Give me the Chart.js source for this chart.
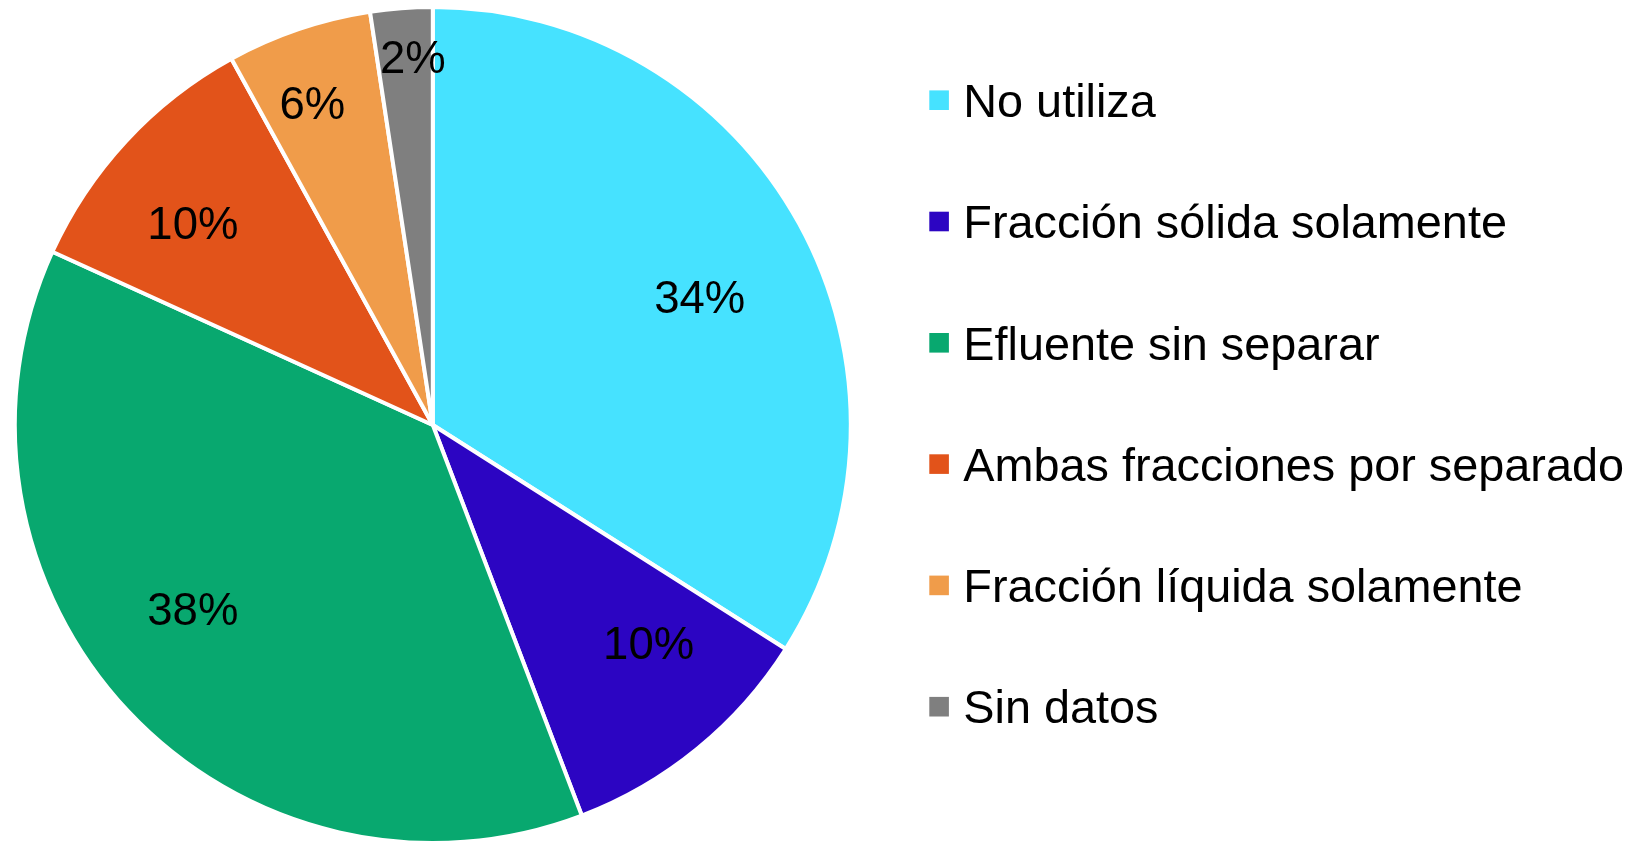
<!DOCTYPE html>
<html>
<head>
<meta charset="utf-8">
<script src="https://cdn.jsdelivr.net/npm/chart.js@4"></script>
<style>
  html, body { margin: 0; padding: 0; background: #ffffff; }
  #wrap { width: 1646px; height: 844px; position: relative; }
</style>
</head>
<body>
<div id="wrap"><canvas id="c" width="1646" height="844"></canvas></div>
<script>
// ---- data ----
const categories = [
  'No utiliza',
  'Fracción sólida solamente',
  'Efluente sin separar',
  'Ambas fracciones por separado',
  'Fracción líquida solamente',
  'Sin datos'
];
const shares = [34.0, 10.2, 37.6, 10.2, 5.6, 2.4];

// ---- style ----
const sliceColors = ['#46E2FF', '#2C05C2', '#08A86F', '#E2531A', '#F09C4A', '#7F7F7F'];
const labelRadiusFrac = [0.709, 0.741, 0.731, 0.750, 0.822, 0.879];
const labelAngleShiftDeg = [3.6, -5.2, 5.3, -3.1, -1.9, 1.2];
const FONT = '"Liberation Sans", Arial, Helvetica, sans-serif';
const BORDER = 4;
const PIE_R = 416;

const sliceLabels = {
  id: 'sliceLabels',
  afterDatasetsDraw(chart) {
    const ctx = chart.ctx;
    const meta = chart.getDatasetMeta(0);
    const data = chart.data.datasets[0].data;
    const total = data.reduce((a, b) => a + b, 0);
    ctx.save();
    ctx.font = '45.5px ' + FONT;
    ctx.fillStyle = '#000000';
    ctx.textAlign = 'center';
    ctx.textBaseline = 'middle';
    meta.data.forEach((arc, i) => {
      const p = arc.getProps(['x', 'y', 'startAngle', 'endAngle', 'outerRadius'], true);
      const mid = (p.startAngle + p.endAngle) / 2 + labelAngleShiftDeg[i] * Math.PI / 180;
      const r = PIE_R * labelRadiusFrac[i];
      const x = p.x + Math.cos(mid) * r;
      const y = p.y + Math.sin(mid) * r;
      const txt = Math.round(data[i] / total * 100) + '%';
      ctx.fillText(txt, x, y + 1);
    });
    ctx.restore();
  }
};

const sideLegend = {
  id: 'sideLegend',
  afterDraw(chart) {
    const ctx = chart.ctx;
    const labels = chart.data.labels;
    const colors = chart.data.datasets[0].backgroundColor;
    const boxX = 929.3, box = 19.6, textX = 963.3;
    const firstY = 100.2, step = 121.3;
    ctx.save();
    ctx.font = '46.8px ' + FONT;
    ctx.fillStyle = '#000000';
    ctx.textAlign = 'left';
    ctx.textBaseline = 'alphabetic';
    labels.forEach((lab, i) => {
      const cy = firstY + i * step;
      ctx.fillStyle = colors[i];
      ctx.fillRect(boxX, cy - box / 2, box, box);
      ctx.fillStyle = '#000000';
      ctx.fillText(lab, textX, cy + 16.7);
    });
    ctx.restore();
  }
};

new Chart(document.getElementById('c'), {
  type: 'pie',
  data: {
    labels: categories,
    datasets: [{
      data: shares,
      backgroundColor: sliceColors,
      borderColor: '#ffffff',
      borderWidth: BORDER,
      hoverOffset: 0
    }]
  },
  options: {
    responsive: false,
    animation: false,
    radius: PIE_R + BORDER / 2,
    layout: { padding: { left: 0, right: 780.4, top: 7, bottom: 1 } },
    plugins: {
      legend: { display: false },
      tooltip: { enabled: false }
    },
    events: []
  },
  plugins: [sliceLabels, sideLegend]
});
</script>
</body>
</html>
